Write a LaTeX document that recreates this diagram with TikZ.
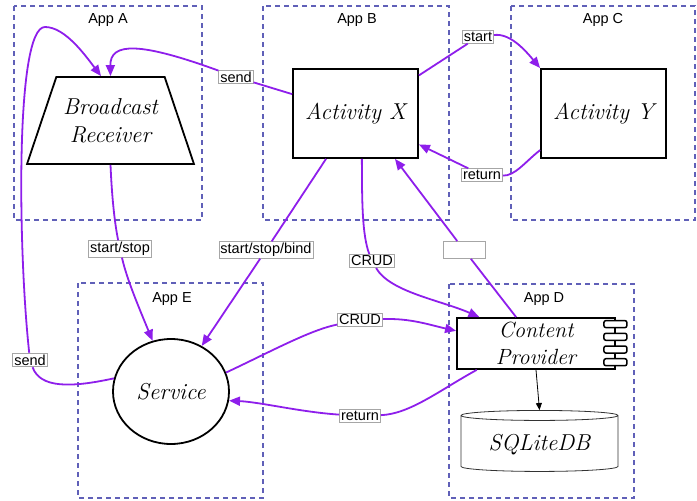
\documentclass[tikz,border=0pt]{standalone}
\usepackage{fontspec}
\setmainfont{Liberation Sans}
\newfontfamily\handfont{Latin Modern Roman}
\usetikzlibrary{arrows.meta,shapes.geometric,calc}
\definecolor{appblue}{RGB}{96,96,184}
\definecolor{linkpurple}{RGB}{142,30,235}
\tikzset{every picture/.style={/utils/exec={\fontsize{14.5}{17}\selectfont}}}
\tikzset{app/.style={draw=appblue, line width=1.2pt, dash pattern=on 5pt off 4pt}}
\tikzset{comp/.style={draw, line width=1.8pt, fill=white, align=center, font=\handfont\itshape\fontsize{23}{28}\selectfont}}
\tikzset{link/.style={linkpurple, line width=1.8pt, -{Triangle[length=11pt,width=9pt]}}}
\tikzset{tag/.style={draw=black!35, fill=white, line width=0.8pt, inner sep=1.5pt}}

\begin{document}
\begin{tikzpicture}[x=1pt,y=-1pt]
    \useasboundingbox (0,0) rectangle (697,501);
    % apps
    \draw [app] (14,6) rectangle (202,220) (263,6) rectangle (449,220) (511,6) rectangle (695,220)
        (78,283) rectangle (263,498) (449,284) rectangle (634,498);
    \node (appA) at (108,20) {App A};
    \node (appB) at (357,20) {App B};
    \node (appC) at (603,20) {App C};
    \node (appE) at (172,299) {App E};
    \node (appD) at (544,299) {App D};
    % components
    \node [comp, trapezium, trapezium left angle=60, trapezium right angle=60, trapezium stretches,
        minimum width=167pt, minimum height=87pt, inner sep=0pt] (ba) at (110.5,120.5) {Broadcast\\Receiver};
    \node [comp, minimum width=125pt, minimum height=89pt] (ax) at (355.5,113.5) {Activity X};
    \node [comp, minimum width=125pt, minimum height=89pt] (ay) at (603.5,113.5) {Activity Y};
    \node [comp, ellipse, minimum width=116pt, minimum height=105pt] (svc) at (171,391.5) {Service};
    \node [comp, minimum width=158pt, minimum height=51pt, inner sep=0pt, font=\handfont\itshape\fontsize{22}{27}\selectfont] (cp) at (536,343.5) {Content\\Provider};
    \foreach \i in {0,...,3}
        \draw [line width=1.5pt, fill=white, rounded corners=2pt] ([xshift=-12pt,yshift=-3.5pt-\i*12.7pt]cp.north east) rectangle ++(23pt,-7pt);
    \node [comp, cylinder, shape border rotate=90, aspect=0.09, line width=0.8pt, draw=black!80,
        minimum width=157pt, minimum height=61pt] (db) at (539.5,444.5) {SQLiteDB};
    \draw [-{Triangle[length=7pt,width=6pt]}, line width=0.8pt] (cp.south) -- (db.north);
    % labels
    \node [tag] (sendB) at (236,77) {send};
    \node [tag] (sendE) at (30,360) {send};
    \node [tag] (ss) at (120,249) {start/stop};
    \node [tag] (ssb) at (266,250) {start/stop/bind};
    \node [tag] (crudX) at (372,261) {CRUD};
    \node [tag, minimum width=42pt, minimum height=17pt] (blank) at (464,250) {};
    \node [tag] (crudS) at (360,320) {CRUD};
    \node [tag] (retS) at (360,416) {return};
    \node [tag] (start) at (478,37) {start};
    \node [tag] (retY) at (482,175) {return};
    % links
    \draw [link] (ax.163) -- (sendB) .. controls (140,42) and (110,42) .. (ba.north);
    \draw [link] (svc.167) .. controls (70,388) and (40,388) .. (sendE) .. controls (18,250) and (15,27) .. (45,27)
        .. controls (65,27) and (85,55) .. (ba.102);
    \draw [link] (ba.south) .. controls (112,200) and (115,225) .. (ss) .. controls (127,280) and (140,310) .. (svc.110);
    \draw [link] (ax.237) -- (ssb) -- (svc.56);
    \draw [link] (ax.278) .. controls (362,200) and (362,235) .. (crudX) .. controls (390,292) and (440,300) .. (cp.155);
    \draw [link] (cp.127) -- (blank) -- (ax.311);
    \draw [link] (svc.19) .. controls (270,352) and (310,330) .. (crudS) .. controls (410,318) and (430,325) .. (cp.171);
    \draw [link] (cp.204) .. controls (440,390) and (410,414) .. (retS) .. controls (300,412) and (260,402) .. (svc.351);
    \draw [link] (ax.31) -- (start) .. controls (510,33) and (525,50) .. (ay.north west);
    \draw [link] (ay.210) .. controls (525,162) and (515,176) .. (retY) -- (ax.334);
\end{tikzpicture}
\end{document}
